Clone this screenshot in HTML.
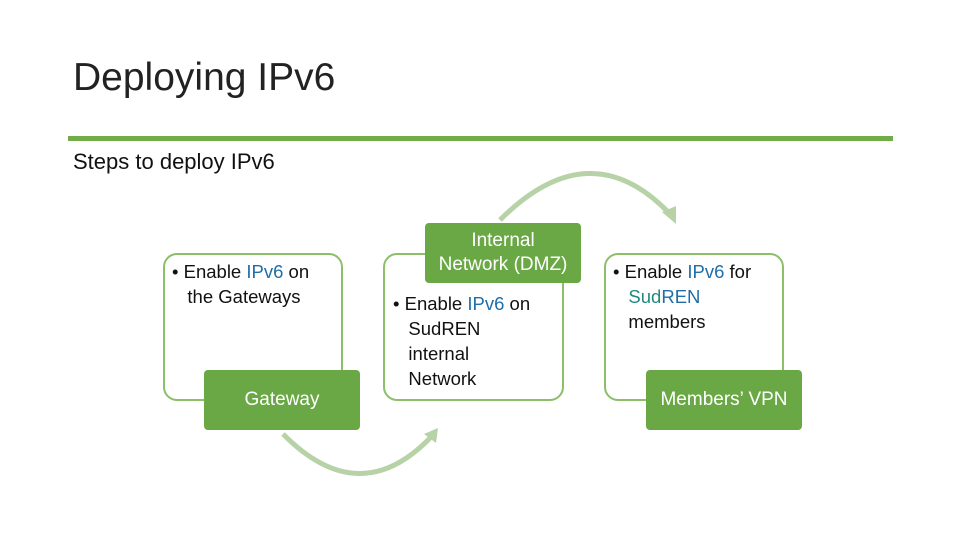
<!DOCTYPE html>
<html><head><meta charset="utf-8"><style>
body{margin:0;width:960px;height:540px;background:#fff;position:relative;overflow:hidden;font-family:"Liberation Sans",sans-serif;}
.a{position:absolute}
.box{position:absolute;border:2px solid #8cbf6a;border-radius:14px;background:#fff;box-sizing:border-box}
.g{position:absolute;background:#6aa845;border-radius:4px;color:#fff;font-size:19px;text-align:center;display:flex;align-items:center;justify-content:center;line-height:24px}
.t{position:absolute;font-size:18.5px;line-height:25px;color:#111}
.b{color:#1f6ea8}
</style></head><body>
<div class="a" style="left:73px;top:56px;font-size:39px;color:#222">Deploying IPv6</div>
<div class="a" style="left:68px;top:136px;width:825px;height:5px;background:#70ad47"></div>
<div class="a" style="left:73px;top:149px;font-size:22px;color:#111">Steps to deploy IPv6</div>
<svg class="a" style="left:0;top:0" width="960" height="540">
<path d="M283,434 Q360,512 432,436" fill="none" stroke="#b6d2a6" stroke-width="5"/>
<polygon points="438,428 424,434 436,443" fill="#b6d2a6"/>
<path d="M500,220 Q590,130 670,214" fill="none" stroke="#b6d2a6" stroke-width="5"/>
<polygon points="676,224 662,212 676,206" fill="#b6d2a6"/>
</svg>
<div class="box" style="left:163px;top:253px;width:180px;height:148px"></div>
<div class="t" style="left:172px;top:259px;width:170px">•&nbsp;Enable <span class="b">IPv6</span> on<br>&nbsp;&nbsp;&nbsp;the Gateways</div>
<div class="g" style="left:204px;top:370px;width:156px;height:60px">Gateway</div>
<div class="box" style="left:383px;top:253px;width:181px;height:148px"></div>
<div class="g" style="left:425px;top:223px;width:156px;height:60px">Internal<br>Network (DMZ)</div>
<div class="t" style="left:393px;top:291px;width:170px">•&nbsp;Enable <span class="b">IPv6</span> on<br>&nbsp;&nbsp;&nbsp;SudREN<br>&nbsp;&nbsp;&nbsp;internal<br>&nbsp;&nbsp;&nbsp;Network</div>
<div class="box" style="left:604px;top:253px;width:180px;height:148px"></div>
<div class="t" style="left:613px;top:259px;width:170px">•&nbsp;Enable <span class="b">IPv6</span> for<br>&nbsp;&nbsp;&nbsp;<span style="color:#1f8a80">Sud</span><span class="b">REN</span><br>&nbsp;&nbsp;&nbsp;members</div>
<div class="g" style="left:646px;top:370px;width:156px;height:60px">Members’ VPN</div>
</body></html>
